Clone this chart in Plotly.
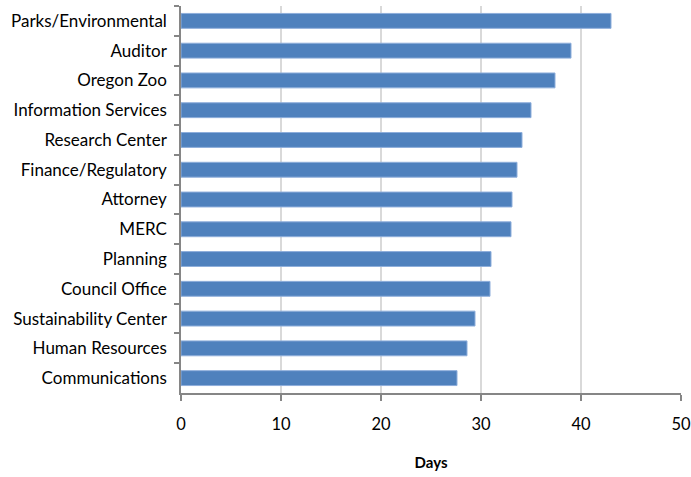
import plotly.graph_objects as go

departments = [
    "Parks/Environmental", "Auditor", "Oregon Zoo", "Information Services",
    "Research Center", "Finance/Regulatory", "Attorney", "MERC", "Planning",
    "Council Office", "Sustainability Center", "Human Resources", "Communications",
]
days = [43.0, 39.0, 37.4, 35.0, 34.1, 33.6, 33.1, 33.0, 31.0, 30.9, 29.4, 28.6, 27.6]
x_ticks = [0, 10, 20, 30, 40, 50]

FONT = "Lato, 'Open Sans', sans-serif"

fig = go.Figure(
    go.Bar(
        y=departments,
        x=days,
        orientation="h",
        width=0.5,
        marker=dict(color="#4F81BD", line=dict(color="#8EAEDB", width=1)),
        hoverinfo="x+y",
    )
)

fig.update_layout(
    width=691,
    height=477,
    margin=dict(l=181, r=0, t=6, b=84),
    plot_bgcolor="white",
    paper_bgcolor="white",
    showlegend=False,
    font=dict(family=FONT, size=16.5, color="#000000"),
    xaxis=dict(
        range=[0, 50],
        tickvals=x_ticks,
        ticktext=[str(v) for v in x_ticks],
        ticklabeloverflow="allow",
        showgrid=True,
        gridcolor="#D9D9D9",
        gridwidth=1.5,
        zeroline=False,
        showline=True,
        linecolor="#868686",
        linewidth=1.5,
        ticks="outside",
        ticklen=6,
        tickcolor="#868686",
        tickwidth=1.5,
        ticklabelstandoff=9,
        title=dict(text="<b>Days</b>", font=dict(size=15), standoff=25),
    ),
    yaxis=dict(
        autorange="reversed",
        tickson="boundaries",
        ticks="outside",
        ticklen=5,
        tickcolor="#868686",
        tickwidth=1.5,
        showline=True,
        linecolor="#868686",
        linewidth=1.5,
        showgrid=False,
        ticklabelstandoff=9,
        tickfont=dict(size=17),
    ),
)

fig.write_html("out.html")
